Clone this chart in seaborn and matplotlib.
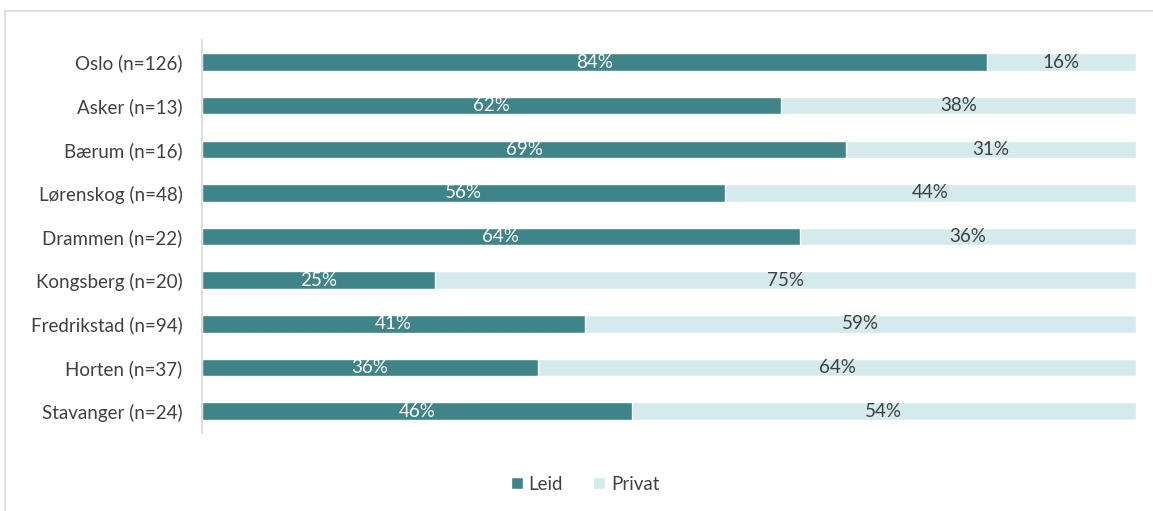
import matplotlib
matplotlib.use("Agg")
import matplotlib.pyplot as plt
from matplotlib.patches import Patch
from matplotlib.lines import Line2D
import seaborn as sns
import pandas as pd

kommuner = ["Oslo (n=126)", "Asker (n=13)", "Bærum (n=16)", "Lørenskog (n=48)",
            "Drammen (n=22)", "Kongsberg (n=20)", "Fredrikstad (n=94)",
            "Horten (n=37)", "Stavanger (n=24)"]
leid = [84, 62, 69, 56, 64, 25, 41, 36, 46]
privat = [16, 38, 31, 44, 36, 75, 59, 64, 54]

leid_farge = "#3F8489"
privat_farge = "#D5EAEC"
tekst_farge = "#404040"
fs = 13.5

sns.set_theme(style="white")
plt.rcParams["font.family"] = ["Lato", "DejaVu Sans"]

df = pd.DataFrame({"kommune": kommuner, "Leid": leid, "Privat": privat})
df["Totalt"] = df["Leid"] + df["Privat"]

fig = plt.figure(figsize=(11.53, 5.11), dpi=100)
ax = fig.add_axes([0.1752, 0.153, 0.810, 0.768])

sns.barplot(data=df, y="kommune", x="Totalt", color=privat_farge, orient="h",
            width=0.4, ax=ax, saturation=1)
sns.barplot(data=df, y="kommune", x="Leid", color=leid_farge, orient="h",
            width=0.4, ax=ax, saturation=1)

for i, (l, p) in enumerate(zip(leid, privat)):
    ax.text(l / 2, i, f"{l}%", ha="center", va="center", color="white", fontsize=fs)
    ax.text(l + p / 2, i, f"{p}%", ha="center", va="center", color=tekst_farge, fontsize=fs)

ax.set_xlim(0, 100)
ax.set_ylim(len(kommuner) - 0.5, -0.5)
ax.set_xlabel("")
ax.set_ylabel("")
ax.set_xticks([])
ax.tick_params(axis="y", length=0, pad=14, labelsize=fs, labelcolor=tekst_farge)
for side in ["top", "right", "bottom"]:
    ax.spines[side].set_visible(False)
ax.spines["left"].set_color("#D9D9D9")
ax.spines["left"].set_linewidth(1.2)

# thin frame lines along the top and left edges of the figure
fig.add_artist(Line2D([4.5 / 1153, 1], [1 - 11 / 511, 1 - 11 / 511],
                      transform=fig.transFigure, color="#D9D9D9", lw=1.2))
fig.add_artist(Line2D([4.5 / 1153, 4.5 / 1153], [0, 1 - 11 / 511],
                      transform=fig.transFigure, color="#D9D9D9", lw=1.2))

handles = [Patch(facecolor=leid_farge, label="Leid"),
           Patch(facecolor=privat_farge, label="Privat")]
leg = fig.legend(handles=handles, loc="center", bbox_to_anchor=(585 / 1153, 1 - 484 / 511),
                 ncol=2, frameon=False, fontsize=fs, handlelength=0.65, handleheight=0.65,
                 handletextpad=0.3, columnspacing=1.6)
for t in leg.get_texts():
    t.set_color(tekst_farge)

fig.savefig("out.png", dpi=100)
